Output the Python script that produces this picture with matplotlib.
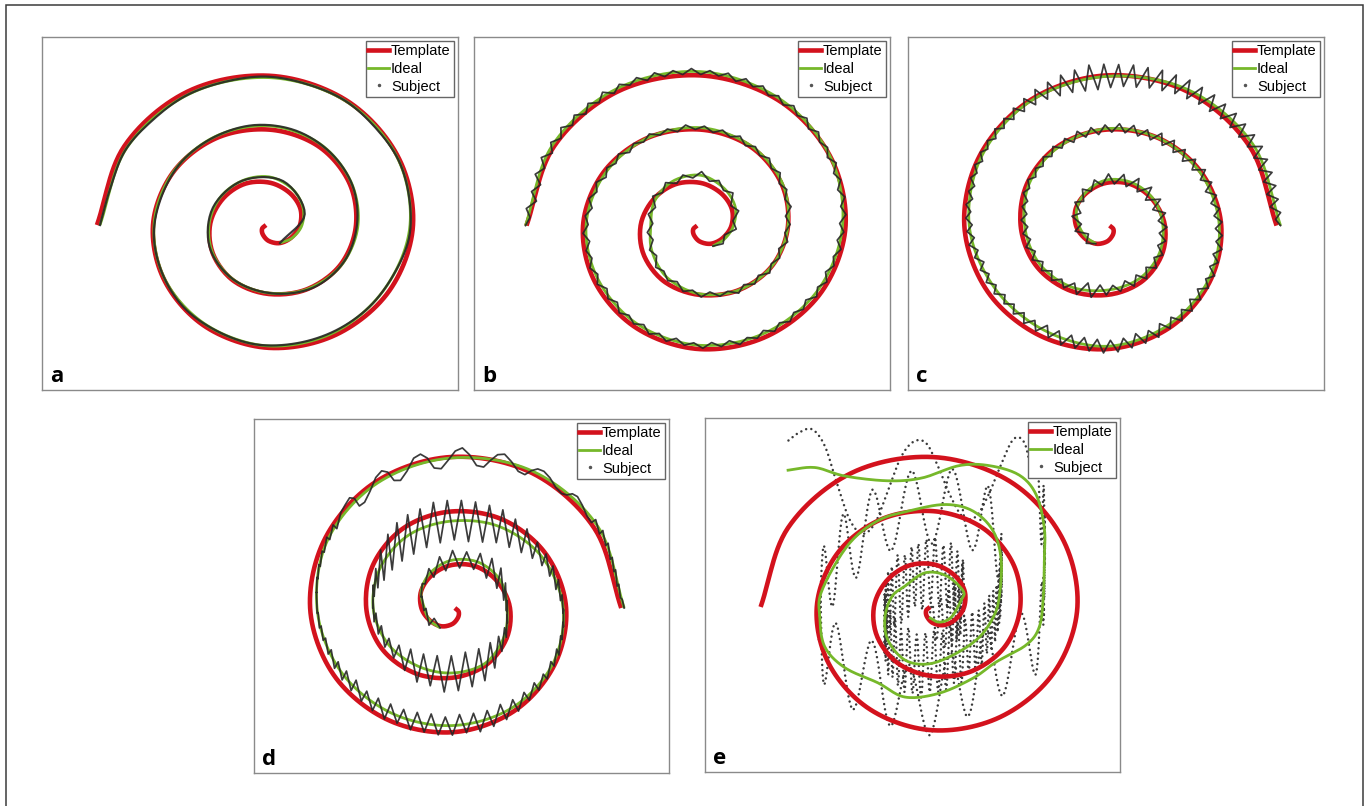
import numpy as np
import matplotlib.pyplot as plt
from matplotlib.lines import Line2D
from matplotlib.patches import Rectangle

# template spiral: radius every 30 deg, starting at 180 deg (same sheet on every tablet)
template_t0 = 180
template_r = [3, 8, 12, 17, 22, 26, 31, 36, 40, 45, 50, 54, 59, 64, 69, 73, 78, 83, 87,
              92, 97, 101, 106, 111, 116, 120, 125, 130, 134, 139, 144, 148, 153, 158,
              163, 167, 172]

# ideal (smoothed) traces, radius every 30 deg starting at 300 deg
ideal_t0 = 300
ideal_a_r = [22, 27, 33, 39, 45, 51, 54, 57, 60, 64, 68, 72, 78, 84, 89, 94, 100, 105,
             108, 111, 115, 119, 123, 128, 131, 134, 141, 147, 152, 156, 160, 164, 169]
ideal_b_r = [25, 28, 33, 40, 46, 53, 54, 52, 49, 55, 64, 72, 78, 83, 87, 93, 98, 103,
             106, 109, 113, 116, 121, 126, 130, 135, 141, 148, 155, 162, 166, 169, 173]
ideal_c_r = [22, 24, 28, 35, 41, 48, 52, 55, 57, 61, 65, 68, 74, 79, 83, 90, 96, 102,
             106, 110, 114, 118, 122, 127, 127, 131, 139, 146, 152, 157, 165, 171, 176]
ideal_d_r = [24, 26, 28, 36, 43, 50, 55, 57, 56, 61, 67, 68, 70, 75, 80, 84, 88, 91,
             98, 106, 113, 118, 121, 123, 126, 131, 137, 145, 151, 157, 165, 171, 175]
ideal_e_x = [-4, 6, 18, 28, 30, 13, -8, -28, -41, -48, -45, -28, -4, 23, 46, 60, 66, 68,
             60, 40, 13, -21, -55, -85, -111, -113, -108, -88, -55, -28, 6, 40, 63, 93,
             106, 110, 111, 111, 103, 86, 56, 26, -11, -45, -88, -118, -146]
ideal_e_y = [-11, -16, -11, 7, 17, 33, 36, 22, 11, -11, -35, -56, -60, -49, -32, -11, 10,
             49, 80, 101, 108, 102, 91, 65, 17, -11, -42, -64, -80, -95, -91, -75, -58,
             -40, -21, 11, 50, 83, 118, 139, 149, 149, 136, 133, 138, 147, 144]

# subject deviation from the ideal, evenly spaced along the trace
subject_a_dev = [0, 1, 1, 0, 1, 1, 0, 0, 1, 0, -1, 0, 0, 1, 1, 0, 0, -1, 0, 0, 1, 0, 0,
                 -1, -1, 0, 0, 1, 0, 0, -1, 0, 0, 1, 0, 0, -1, 0, 0, 0]
subject_b_dev = [0, 3, -3, 4, -2, 3, -4, 4, -2, 3, -3, 4, -3, 2, -4, 3, -2, 4, -3,
                 3, -2, 3, -3, 2, -3, 3, -2, 2, -3, 3, -2, 3, -3, 2, -2, 3, -3, 2, -3, 3,
                 -2, 2, -3, 3, -2,
                 2, -3, 3, -2, 2, -3, 3, -2, 3, -2, 2, -3, 3, -2, 2, -3, 2, -2, 3, -3, 2,
                 -2, 3, -2, 2, -3, 3, -2, 2, -3, 3, -2, 3, -3, 2,
                 -2, 3, -3, 2, -2, 3, -2, 3, -3, 2, -3, 3, -2, 2, -3, 3, -2, 3, -3, 2, -2,
                 3, -3, 2, -3, 3, -2, 2, -3, 3, -2, 3, -2, 2, -3, 3, -2, 3, -3, 2, -2, 3,
                 -3, 2, -3,
                 3, -2, 3, -3, 2, -3, 3, -3, 2, -2, 3, -3, 3, -2, 3, -3, 2, -3, 3, -2, 3,
                 -3, 3, -2, 2, -3, 3, -3, 2, -3, 3, -3, 3, -2, 3, -3, 4, -3, 3, -4, 3, -3,
                 4, -3, 3, -4, 4, -3, 4, -4, 3, -4, 4, -2, 0]
subject_c_dev = [0, 5, -4, 6, -3, 5, -5, 4, -4, 5, -3, 5, -4, 6, -5, 6, -6, 7, -6, 7, -7, 6,
                 -6, 5,
                 -4, 4, -4, 3, -4, 4, -3, 5, -4, 5, -5, 4, -5, 4, -4, 5, -6, 7, -8, 6, -5, 4,
                 -3, 4, -4, 3, -4, 4, -3, 4, -3, 3, -3,
                 3, -3, 2, -3, 3, -2, 3, -3, 2, -3, 3, -3, 4, -3, 4, -4, 5, -4, 4, -5, 4, -4,
                 5, -4, 5, -5, 4, -5, 6, -5, 6, -5, 5, -6, 5, -5, 6, -4, 5, -5, 4, -4, 3, -4,
                 3, -4, 3, -3, 4, -4, 3, -4, 4, -3, 4, -5, 4, -5, 5, -4, 5, -5, 4, -6, 6, -5,
                 6, -7, 6, -6, 7, -6, 7, -7, 6, -7, 6, -6, 7, -6, 5, -6, 5, -4, 5, -4, 4, -4,
                 3, -4, 4, -3, 4, -3, 3, -4, 3, -3, 4, -3, 3, -3,
                 3, -2, 3, -3, 2, -3, 3, -2, 3, -3, 3, -2, 3, -3, 4, -3, 4, -4, 5, -5, 6, -6,
                 8, -7, 9, -9, 11, -10, 12, -12, 14, -13, 13, -12, 12, -11, 12, -11, 11, -10,
                 11, -10, 10, -9, 10, -9, 9, -8, 9, -8, 8, -7, 8, -7, 7, -7, 7, -6, 7, -6, 6,
                 -6, 6, -5, 6, -5, 5, -5, 4, -3, 0]
subject_d_dev = [0, 6, -6, 5, -4, 4, -4, 3, -4, 6, -8, 9, -9, 10, -9, 8, -9, 10, -12, 13,
                 -13, 14, -13,
                 12, -10, 8, -8, 7, -9, 8, -10, 12,
                 -15, 17, -18, 19, -18, 20, -19, 18, -20, 17, -16, 15, -17, 14, -12, 10,
                 -8, 7, -8, 8, -7, 8,
                 -8, 7, -8, 9, -10, 12, -15, 18,
                 -20, 22, -21, 23, -22, 22, -23, 21, -22, 23, -21, 22, -20, 21, -22, 20, -21,
                 19, -18, 19, -17, 16, -15, 14, -12,
                 10, -9, 9, -8, 9, -9, 8, -7, 6, -6,
                 5, -6, 6, -5, 6, -7, 6, -5, 6, -6, 5, -6, 7, -6, 7, -8, 8,
                 -9, 10, -10, 9, -11, 10, -9, 11, -10, 9, -10, 11, -9, 10, -10, 9, -8, 9, -10,
                 8, -9, 7, -8, 9, -7, 8, -7, 6, -7, 6, -5, 5,
                 -4, 4, -5, 4, -4, 5,
                 4, -4, 5, -4, 4, -5, 4, -4, 5, -4, 5, -5, 6, 8,
                 10, 4, -9, -10, -3, 7, 10, 5, -7, -10, -3, 8, 10, 4, -8, -10, -2, 7, 10, 3,
                 -8, -9, -1, 6, 8, 2, -6, -7, 0, 5,
                 6, 3, -3, -5, -2, 4, 6, 2, -4, -5, 4, -5, 5, -4, 5, -5, 4, -4, 5, -5, 4, -3,
                 2, 0]
# panel e: vertical tremor, split by ideal knots (inner loop, middle loop, outer arc)
subject_e_inner = [0, 15, -20, 26, -28, 32, -30, 34, -33, 30, -35, 36, -31, 33, -36, 35,
                   -30, 38, -34, 31, -36, 37, -33, 35, -38, 34, -30, 36, -35, 33, -37, 38,
                   -34, 32, -36, 35, -31, 34, -33, 30, -32, 35, -30, 33, -36, 34, -31, 35,
                   -33, 30, -34, 36, -32, 31, -35, 33, -30, 34, -32, 29, -33, 35, -30, 32,
                   -34, 30, -28, 33, -31, 29, -32, 30, -27, 31, -29, 28, -30, 26, -28, 30,
                   -27, 25, -28, 26, -24, 27, -25, 24, -22, 20]
subject_e_mid = [25, -38, 40, -42, 38, -40, 42, -38, 36, -44, 40, -40, 43, -36, 38, -42,
                 40, -40, 42, -38, 35, -42, 40, -38, 44, -40, 38, -42, 36, -30]
subject_e_outer = [20, -35, 30, -40, 35, -30, 40, -35, 30,
                   15, 38, 35, 5, -30, -55, -55, -30, 5, 35, 40, 25, -10, -45, -58, -45,
                   -10, 25, 40, 38, 30]

panels = ["a", "b", "c", "d", "e"]
mirrored = ["c", "d"]
vertical_tremor = ["d", "e"]
smooth_subject = ["a", "e"]
ideal_r = {"a": ideal_a_r, "b": ideal_b_r, "c": ideal_c_r, "d": ideal_d_r}
subject_spans = {p: [(0, 32, dev)] for p, dev in
                 [("a", subject_a_dev), ("b", subject_b_dev), ("c", subject_c_dev),
                  ("d", subject_d_dev)]}
subject_spans["e"] = [(0, 17, subject_e_inner), (17, 35, subject_e_mid),
                      (35, 46, subject_e_outer)]

# panel boxes in pixels (left, top, width, height) and data limits
W, H = 1370, 806
boxes = {"a": (42, 37, 416, 353), "b": (474, 37, 416, 353), "c": (908, 37, 416, 353),
         "d": (254, 419, 415, 354), "e": (705, 418, 415, 354)}
limits = {"a": ((-227, 189), (-174.6, 199)), "b": ((-224, 188), (-173, 198.4)),
          "c": ((-201, 220), (-173, 198.4)), "d": ((-201, 220.5), (-172.6, 197.7)),
          "e": ((-227.5, 186.5), (-174, 199.2))}

RED = "#d3121d"
GREEN = "#76b82a"
N_SEG = 14


def smooth(x, y, n=N_SEG):
    # Catmull-Rom curve through the knots
    x = np.asarray(x, float)
    y = np.asarray(y, float)
    px = np.r_[2 * x[0] - x[1], x, 2 * x[-1] - x[-2]]
    py = np.r_[2 * y[0] - y[1], y, 2 * y[-1] - y[-2]]
    t = np.linspace(0, 1, n, endpoint=False)[:, None]

    def seg(p):
        p0, p1, p2, p3 = p[:-3], p[1:-2], p[2:-1], p[3:]
        return 0.5 * (2 * p1 + (p2 - p0) * t + (2 * p0 - 5 * p1 + 4 * p2 - p3) * t ** 2
                      + (3 * p1 - p0 - 3 * p2 + p3) * t ** 3)
    return np.r_[seg(px).T.ravel(), x[-1]], np.r_[seg(py).T.ravel(), y[-1]]


def polar(t0, r, flip):
    th = np.radians(t0 + 30 * np.arange(len(r)))
    x = np.asarray(r, float) * np.cos(th)
    y = np.asarray(r, float) * np.sin(th)
    return (-x if flip else x), y


def trace(x, y, dev, vertical):
    s = np.r_[0, np.cumsum(np.hypot(np.diff(x), np.diff(y)))]
    si = np.linspace(0, s[-1], len(dev))
    tx = np.interp(si, s, x)
    ty = np.interp(si, s, y)
    dev = np.asarray(dev, float)
    if vertical:
        return tx, ty + dev
    rr = np.hypot(tx, ty)
    rr[rr == 0] = 1
    return tx + dev * tx / rr, ty + dev * ty / rr


def subject_path(ix, iy, spans, vertical):
    xs, ys = [], []
    for k0, k1, dev in spans:
        sl = slice(k0 * N_SEG, k1 * N_SEG + 1)
        sx, sy = trace(ix[sl], iy[sl], dev, vertical)
        xs.append(sx)
        ys.append(sy)
    return np.concatenate(xs), np.concatenate(ys)


fig = plt.figure(figsize=(W / 100, H / 100), dpi=100)
fig.add_artist(Rectangle((5.5 / W, -0.02), 1357.5 / W, 1.02 - 4.5 / H,
                         transform=fig.transFigure, fill=False, ec="#3a3a3a", lw=1.1))

for p in panels:
    left, top, w, h = boxes[p]
    ax = fig.add_axes([left / W, 1 - (top + h) / H, w / W, h / H])
    flip = p in mirrored

    tx, ty = smooth(*polar(template_t0, template_r, flip))
    ax.plot(tx, ty, color=RED, lw=3.3, solid_capstyle="butt", zorder=2)

    if p == "e":
        ix, iy = smooth(ideal_e_x, ideal_e_y)
    else:
        ix, iy = smooth(*polar(ideal_t0, ideal_r[p], flip))
    ax.plot(ix, iy, color=GREEN, lw=2.0, solid_capstyle="butt", zorder=3)

    sx, sy = subject_path(ix, iy, subject_spans[p], p in vertical_tremor)
    if p in smooth_subject:
        sx, sy = smooth(sx, sy, n=8)
    if p == "e":
        ax.plot(sx, sy, color="#3a3a3a", lw=1.8, ls=(0, (0.01, 2.1)),
                dash_capstyle="round", zorder=1.5)
    else:
        ax.plot(sx, sy, color="#262626", lw=1.6 if p == "a" else 1.25, alpha=0.9,
                solid_joinstyle="round", zorder=4)

    ax.set_xlim(*limits[p][0])
    ax.set_ylim(*limits[p][1])
    ax.set_xticks([])
    ax.set_yticks([])
    for sp in ax.spines.values():
        sp.set_color("#8a8a8a")
        sp.set_linewidth(1.0)

    handles = [Line2D([], [], color=RED, lw=3.3),
               Line2D([], [], color=GREEN, lw=2.0),
               Line2D([], [], ls="none", marker=".", ms=3, color="#555555")]
    leg = ax.legend(handles, ["Template", "Ideal", "Subject"], loc="upper right",
                    prop={"family": "Liberation Sans", "size": 10.5}, frameon=True,
                    fancybox=False, framealpha=1, edgecolor="#666666", borderpad=0.2,
                    labelspacing=0.25, handlelength=1.4, handletextpad=0.15,
                    borderaxespad=0.3)
    leg.get_frame().set_linewidth(1.0)

    ax.text(0.019, 0.024, p, transform=ax.transAxes, ha="left", va="baseline",
            fontsize=16, fontweight="bold", family="Open Sans")

fig.savefig("out.png", dpi=100)
